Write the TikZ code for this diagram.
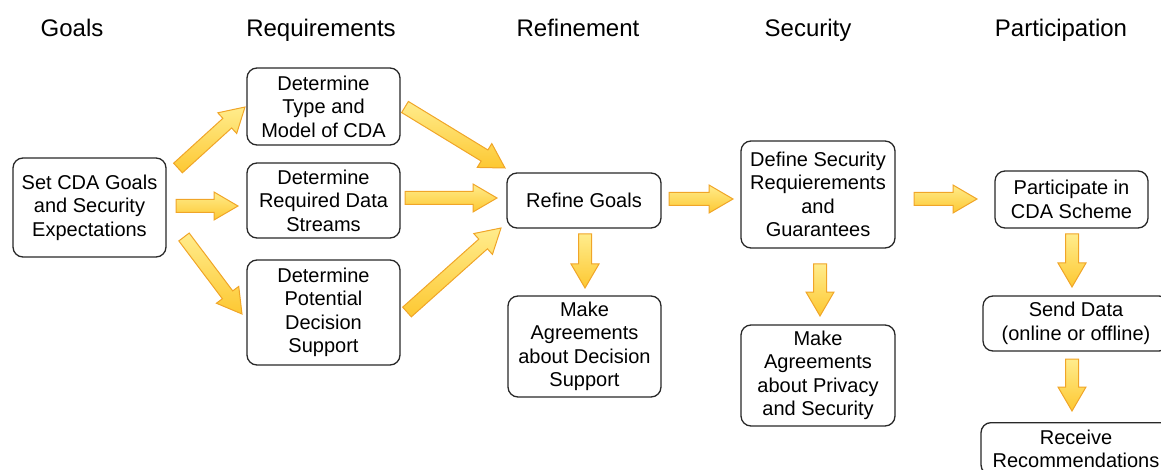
\documentclass[tikz,border=0pt]{standalone}
\usepackage{fontspec}
\setmainfont{Liberation Sans}
\usetikzlibrary{calc}
\definecolor{arrline}{RGB}{240,165,40}
\definecolor{arrtop}{RGB}{255,236,140}
\definecolor{arrbot}{RGB}{253,200,50}
\definecolor{boxline}{RGB}{40,40,40}
\tikzset{
 box/.style={draw=boxline, line width=1.3pt, rounded corners=10pt, fill=white, align=center, inner sep=0pt, font=\fontsize{20}{23.5}\selectfont},
 hdr/.style={anchor=base, font=\fontsize{24}{28}\selectfont},
 fat/.style={draw=arrline, line width=1pt, top color=arrtop, bottom color=arrbot, line join=miter},
}
\newcommand\blockarrow[2]{%
 \coordinate (ba) at ($(#2)!24pt!(#1)$);
 \draw[fat] ($(#1)!6.5pt!90:(#2)$) -- ($(ba)!6.5pt!90:(#2)$) -- ($(ba)!14pt!90:(#2)$) -- (#2) -- ($(ba)!14pt!-90:(#2)$) -- ($(ba)!6.5pt!-90:(#2)$) -- ($(#1)!6.5pt!-90:(#2)$) -- cycle;}
\begin{document}
\begin{tikzpicture}[x=1pt,y=-1pt]
\useasboundingbox (0,0) rectangle (1161,470);
\clip (0,0) rectangle (1161,470);
% headers
\node[hdr] (h1) at (72,37) {Goals};
\node[hdr] (h2) at (321,37) {Requirements};
\node[hdr] (h3) at (578,37) {Refinement};
\node[hdr] (h4) at (808,37) {Security};
\node[hdr] (h5) at (1061,37) {Participation};
% boxes
\node[box, minimum width=153pt, minimum height=99pt] (g) at (89.5,207.5) {Set CDA Goals\\and Security\\Expectations};
\node[box, minimum width=153pt, minimum height=77pt] (t) at (323.5,106.5) {Determine\\Type and\\Model of CDA};
\node[box, minimum width=153pt, minimum height=75pt] (r) at (323.5,200.5) {Determine\\Required Data\\Streams};
\node[box, minimum width=153pt, minimum height=105pt] (p) at (323.5,312.5) {Determine\\Potential\\Decision\\Support};
\node[box, minimum width=154pt, minimum height=55pt] (rg) at (584,200.5) {Refine Goals};
\node[box, minimum width=153pt, minimum height=101pt] (md) at (584.5,346.5) {Make\\Agreements\\about Decision\\Support};
\node[box, minimum width=154pt, minimum height=107pt] (ds) at (818,194.5) {Define Security\\Requierements\\and\\Guarantees};
\node[box, minimum width=154pt, minimum height=101pt] (mp) at (818,375.5) {Make\\Agreements\\about Privacy\\and Security};
\node[box, minimum width=153pt, minimum height=57pt] (pa) at (1071.5,199.5) {Participate in\\CDA Scheme};
\node[box, minimum width=186pt, minimum height=55pt] (sd) at (1076,323.5) {Send Data\\(online or offline)};
\node[box, minimum width=190pt, inner ysep=7pt, anchor=north] (rc) at (1076,422) {Receive\\Recommendations};
% arrow end points
\coordinate (a1s) at (178,168);  \coordinate (a1e) at (245,107);
\coordinate (a2s) at (176,206);  \coordinate (a2e) at (238,206);
\coordinate (a3s) at (184,237);  \coordinate (a3e) at (242,314);
\coordinate (a4s) at (405,107);  \coordinate (a4e) at (505,168);
\coordinate (a5s) at (405,198);  \coordinate (a5e) at (497,198);
\coordinate (a6s) at (407,312);  \coordinate (a6e) at (501,228);
\coordinate (a7s) at (585,234);  \coordinate (a7e) at (585,288);
\coordinate (a8s) at (669,199);  \coordinate (a8e) at (733,199);
\coordinate (a9s) at (820,264);  \coordinate (a9e) at (820,316);
\coordinate (a10s) at (914,199); \coordinate (a10e) at (977,199);
\coordinate (a11s) at (1072,234); \coordinate (a11e) at (1072,287);
\coordinate (a12s) at (1072,359); \coordinate (a12e) at (1072,411);
\blockarrow{a1s}{a1e}
\blockarrow{a2s}{a2e}
\blockarrow{a3s}{a3e}
\blockarrow{a4s}{a4e}
\blockarrow{a5s}{a5e}
\blockarrow{a6s}{a6e}
\blockarrow{a7s}{a7e}
\blockarrow{a8s}{a8e}
\blockarrow{a9s}{a9e}
\blockarrow{a10s}{a10e}
\blockarrow{a11s}{a11e}
\blockarrow{a12s}{a12e}
\end{tikzpicture}
\end{document}
